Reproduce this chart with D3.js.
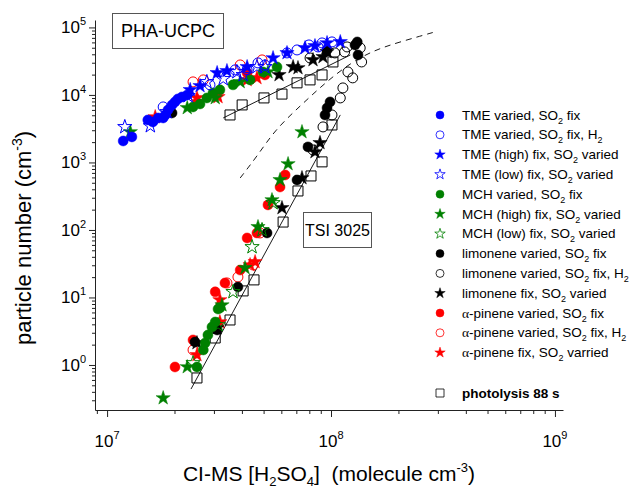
<!DOCTYPE html>
<html>
<head>
<meta charset="utf-8">
<script src="https://cdn.jsdelivr.net/npm/d3@7"></script>
<style>
  body { margin: 0; background: #fff; }
  text { font-family: Arial, "Liberation Sans", sans-serif; fill: #000; }
</style>
</head>
<body>
<script>
// data: [H2SO4] (molecule cm-3), particle number (cm-3)
var tmeVaried = [[1.18e7,2080],[1.29e7,2390],[1.52e7,4260],[1.60e7,3980],[1.69e7,4560],[1.78e7,4560],[1.82e7,5050],
  [1.87e7,5990],[1.95e7,7110],[2.01e7,7880],[2.07e7,8730],[2.16e7,9340],[2.28e7,10000]];
var tmeH2 = [[1.78e7,6640],[2.88e7,14100],[3.73e7,23500],[4.22e7,23500],[4.72e7,29800],[5.07e7,27800],
  [6.36e7,41900],[7.05e7,46400],[7.97e7,55000],[8.75e7,51400],[9.12e7,58900],[1.01e8,61000]];
var tmeHigh = [[2.35e7,11900],[2.60e7,13600],[3.10e7,21200],[3.43e7,22700],[4.22e7,26000],[5.51e7,35300],
  [6.36e7,41900],[7.66e7,49700],[8.48e7,53200],[9.60e7,58900],[1.10e8,61000]];
var tmeLow = [[1.20e7,3360],[1.56e7,3470],[1.85e7,5600],[2.30e7,9670],[2.79e7,15600],[3.30e7,17300],
  [3.80e7,21900],[4.05e7,19800],[4.67e7,26000],[5.07e7,26000]];
var mchVaried = [[2.42e7,6640],[2.60e7,7360],[2.79e7,9030],[2.97e7,10700],[3.19e7,11900],[3.65e7,14100],
  [4.35e7,16700],[4.97e7,21900],[5.74e7,26000],
  [2.52e7,0.934],[2.69e7,1.67],[2.74e7,2.12],[2.82e7,2.78],[2.94e7,3.65],[3.04e7,4.33],[3.13e7,6.75],[3.19e7,6.99]];
var mchHigh = [[1.27e7,2830],[2.28e7,6420],[3.04e7,9030],[3.93e7,15600],[5.23e7,21900],
  [7.42e7,2830],[6.43e7,950],[5.92e7,551],[5.45e7,278],[4.72e7,111],[4.13e7,27.4],[3.26e7,7.7],[2.28e7,0.934],[1.78e7,0.324]];
var mchLow = [[5.51e7,251],[4.92e7,100],[4.44e7,56],[3.65e7,12.1],[3.13e7,3.91],[2.42e7,1.07]];
var limVaried = [[1.31e8,61000],[1.32e8,39100],[9.60e7,46400],[1.28e8,55000],[9.40e7,5050],[9.60e7,6420],[9.90e7,7880],
  [7.89e7,1700],[7.05e7,551],[5.18e7,90.3],[3.84e7,14.3],[3.10e7,3.30],[2.47e7,2.19],[1.95e7,5410]];
var limH2 = [[1.18e8,51400],[1.35e8,49700],[1.37e8,30800],[1.19e8,21900],[1.25e8,17900],[1.13e8,12700],[1.10e8,9030],
  [1.01e8,5050],[9.21e7,3360],[8.31e7,1530],[8.06e7,35300],[1.04e8,41900],[1.15e8,43400]];
var limFix = [[5.86e7,19800],[6.77e7,26000],[7.12e7,25100],[8.31e7,33000],[9.21e7,36600],[9.60e7,43400],
  [8.93e7,1950],[8.48e7,1430],[7.42e7,589],[6.04e7,212],[3.10e7,3.53],[2.52e7,2.12]];
var apVaried = [[4.22e7,21200],[5.07e7,19800],[6.24e7,653],[5.92e7,433],[5.23e7,235],[4.22e7,76.1],[4.67e7,90.3],
  [3.04e7,12.1],[3.36e7,16.4],[3.93e7,25.5],[2.42e7,2.35],[2.01e7,0.934]];
var apH2 = [[2.42e7,15600],[2.69e7,16700],[3.93e7,27800],[4.92e7,33000],[2.42e7,1.67],[3.84e7,20.1],[3.43e7,16.4],
  [4.49e7,30.3],[4.82e7,90.3]];
var apFix = [[1.64e7,4720],[2.52e7,9030],[2.55e7,7880],[3.10e7,10000],[3.13e7,9340],[4.22e7,16700],[4.67e7,17900],
  [3.19e7,9.18],[3.19e7,4.33],[2.52e7,1.41],[4.35e7,30.3],[4.58e7,33.6]];
var photoUpper = [[3.54e7,5050],[4.01e7,7110],[5.02e7,9030],[6.04e7,10300],[7.05e7,15100],[8.06e7,16700],
  [9.12e7,19800],[1.02e8,30800]];
var photoLower = [[2.52e7,0.642],[3.04e7,2.51],[3.54e7,4.64],[4.05e7,12.5],[4.53e7,18.2],[6.11e7,131],[7.12e7,378],
  [8.14e7,631],[9.12e7,1020],[1.01e8,3590]];

// fit lines and the dashed curve
var fitUpper = [[3.30e7,4560],[1.22e8,39100]];
var fitLower = [[2.37e7,0.44],[1.10e8,5060]];
var dashedCurve = [[3.93e7,589],[4.72e7,1291],[5.62e7,3030],[7.28e7,6870],[9.4e7,15060],[1.22e8,29800],
  [1.57e8,46400],[2.03e8,61000],[2.91e8,85800]];

var xTicks = [1e7, 1e8, 1e9];
var yTicks = [1e0, 1e1, 1e2, 1e3, 1e4, 1e5];

// legend text, {..} is subscript, alpha gets the symbol font
var legendLabels = [
  "TME varied, SO{2} fix",
  "TME varied, SO{2} fix, H{2}",
  "TME (high) fix, SO{2} varied",
  "TME (low) fix, SO{2} varied",
  "MCH varied, SO{2} fix",
  "MCH (high) fix, SO{2} varied",
  "MCH (low) fix, SO{2} varied",
  "limonene varied, SO{2} fix",
  "limonene varied, SO{2} fix, H{2}",
  "limonene fix, SO{2} varied",
  "α-pinene varied, SO{2} fix",
  "α-pinene varied, SO{2} fix, H{2}",
  "α-pinene fix, SO{2} varried"
];

var blue = "#0000ff", green = "#008000", black = "#000000", red = "#ff0000";

var series = [
  {data: tmeVaried, shape: "circle", color: blue, filled: true},
  {data: tmeH2, shape: "circle", color: blue, filled: false},
  {data: tmeHigh, shape: "star", color: blue, filled: true},
  {data: tmeLow, shape: "star", color: blue, filled: false},
  {data: mchVaried, shape: "circle", color: green, filled: true},
  {data: mchHigh, shape: "star", color: green, filled: true},
  {data: mchLow, shape: "star", color: green, filled: false},
  {data: limVaried, shape: "circle", color: black, filled: true},
  {data: limH2, shape: "circle", color: black, filled: false},
  {data: limFix, shape: "star", color: black, filled: true},
  {data: apVaried, shape: "circle", color: red, filled: true},
  {data: apH2, shape: "circle", color: red, filled: false},
  {data: apFix, shape: "star", color: red, filled: true}
];

var width = 630, height = 490;

var svg = d3.select("body")
  .append("svg")
    .attr("width", width)
    .attr("height", height);

var x = d3.scaleLog()
  .domain([Math.pow(10, 6.946), Math.pow(10, 9.036)])
  .range([95, 563]);
var y = d3.scaleLog()
  .domain([Math.pow(10, -0.667), Math.pow(10, 5.11)])
  .range([410, 20]);

// minor ticks 2..9 inside the domain
function minors(scale, lo, hi) {
  var out = [];
  var d = scale.domain();
  for (var e = lo; e <= hi; e++) {
    for (var m = 2; m <= 9; m++) {
      var v = m * Math.pow(10, e);
      if (v >= d[0] && v <= d[1]) out.push(v);
    }
  }
  return out;
}

// X axis
svg.append("g")
  .attr("transform", "translate(0,410)")
  .call(d3.axisBottom(x).tickValues(xTicks).tickSize(7).tickSizeOuter(0).tickFormat(""));
svg.append("g")
  .attr("transform", "translate(0,410)")
  .call(d3.axisBottom(x).tickValues(minors(x, 6, 8)).tickSize(4).tickSizeOuter(0).tickFormat(""))
  .select(".domain").remove();

// Y axis
svg.append("g")
  .attr("transform", "translate(95,0)")
  .call(d3.axisLeft(y).tickValues(yTicks).tickSize(6).tickSizeOuter(0).tickFormat(""));
svg.append("g")
  .attr("transform", "translate(95,0)")
  .call(d3.axisLeft(y).tickValues(minors(y, -1, 4)).tickSize(3).tickSizeOuter(0).tickFormat(""))
  .select(".domain").remove();

svg.selectAll(".domain, .tick line").attr("stroke", "#222");

// tick labels 10^n
xTicks.forEach(function(v) {
  var t = svg.append("text")
    .attr("x", x(v))
    .attr("y", 447)
    .attr("text-anchor", "middle")
    .style("font-size", "17px");
  t.append("tspan").text("10");
  t.append("tspan").attr("dy", -8).style("font-size", "11px").text(Math.round(Math.log10(v)));
});
yTicks.forEach(function(v) {
  var t = svg.append("text")
    .attr("x", 86)
    .attr("y", y(v) + 6)
    .attr("text-anchor", "end")
    .style("font-size", "17px");
  t.append("tspan").text("10");
  t.append("tspan").attr("dy", -8).style("font-size", "11px").text(Math.round(Math.log10(v)));
});

// axis titles
var xt = svg.append("text")
  .attr("x", 329)
  .attr("y", 481)
  .attr("text-anchor", "middle")
  .style("font-size", "21px");
xt.append("tspan").text("CI-MS [H");
xt.append("tspan").attr("dy", 5).style("font-size", "13px").text("2");
xt.append("tspan").attr("dy", -5).text("SO");
xt.append("tspan").attr("dy", 5).style("font-size", "13px").text("4");
xt.append("tspan").attr("dy", -5).text("]\u00a0 (molecule cm");
xt.append("tspan").attr("dy", -9).style("font-size", "13px").text("-3");
xt.append("tspan").attr("dy", 9).text(")");

var yt = svg.append("text")
  .attr("transform", "translate(31,238) rotate(-90)")
  .attr("text-anchor", "middle")
  .style("font-size", "22px");
yt.append("tspan").text("particle number (cm");
yt.append("tspan").attr("dy", -9).style("font-size", "14px").text("-3");
yt.append("tspan").attr("dy", 9).text(")");

// fit lines
var line = d3.line()
  .x(function(d) { return x(d[0]); })
  .y(function(d) { return y(d[1]); });

svg.append("path").datum(fitUpper).attr("d", line)
  .attr("fill", "none").attr("stroke", "#000").attr("stroke-width", 0.9);
svg.append("path").datum(fitLower).attr("d", line)
  .attr("fill", "none").attr("stroke", "#000").attr("stroke-width", 0.9);
svg.append("path").datum(dashedCurve).attr("d", line.curve(d3.curveBasis))
  .attr("fill", "none").attr("stroke", "#000").attr("stroke-width", 0.9)
  .attr("stroke-dasharray", "6,5");

// markers
function symbolPath(shape, r) {
  if (shape === "star") return d3.symbol().type(d3.symbolStar).size(r * r / 0.8908)();
  if (shape === "square") return d3.symbol().type(d3.symbolSquare).size(r * r * 4)();
  return d3.symbol().type(d3.symbolCircle).size(Math.PI * r * r)();
}

function drawMarks(s, rCircle, rStar) {
  var r = s.shape === "star" ? rStar : (s.shape === "square" ? 5 : rCircle);
  svg.append("g").selectAll("path")
    .data(s.data)
    .enter()
    .append("path")
      .attr("transform", function(d) { return "translate(" + x(d[0]) + "," + y(d[1]) + ")"; })
      .attr("d", symbolPath(s.shape, r))
      .attr("fill", s.filled ? s.color : "#fff")
      .attr("fill-opacity", s.filled ? 1 : 0)
      .attr("stroke", s.color)
      .attr("stroke-width", s.filled ? 0.5 : 1);
}

drawMarks({data: photoUpper, shape: "square", color: "#000", filled: false});
drawMarks({data: photoLower, shape: "square", color: "#000", filled: false});
series.slice().reverse().forEach(function(s) { drawMarks(s, 5, 7.5); });

// label boxes
function boxLabel(bx, by, bw, bh, label, fs) {
  svg.append("rect")
    .attr("x", bx).attr("y", by).attr("width", bw).attr("height", bh)
    .attr("fill", "#fff").attr("stroke", "#555").attr("stroke-width", 1);
  svg.append("text")
    .attr("x", bx + bw / 2).attr("y", by + bh / 2 + fs * 0.36)
    .attr("text-anchor", "middle")
    .style("font-size", fs + "px")
    .text(label);
}
boxLabel(112.5, 13.5, 111, 35, "PHA-UCPC", 18);
boxLabel(303.5, 212.5, 68, 35, "TSI 3025", 16);

// legend
var legend = svg.append("g");
series.forEach(function(s, i) {
  var cy = 115 + i * 19.8;
  var r = s.shape === "star" ? 5.5 : 4;
  legend.append("path")
    .attr("transform", "translate(440," + cy + ")")
    .attr("d", symbolPath(s.shape, r))
    .attr("fill", s.filled ? s.color : "#fff")
    .attr("stroke", s.color)
    .attr("stroke-width", s.filled ? 0.5 : 0.8);
  var t = legend.append("text")
    .attr("x", 462)
    .attr("y", cy + 4.5)
    .style("font-size", "13.5px");
  var parts = legendLabels[i].split(/(\{[^}]*\}|α)/).filter(function(p) { return p !== ""; });
  var shifted = false;
  parts.forEach(function(p) {
    var ts = t.append("tspan");
    if (p.charAt(0) === "{") {
      ts.attr("dy", 4).style("font-size", "9px").text(p.slice(1, -1));
      shifted = true;
    } else {
      if (shifted) { ts.attr("dy", -4); shifted = false; }
      if (p === "α") ts.style("font-family", "'Liberation Serif', 'DejaVu Serif', serif");
      ts.text(p);
    }
  });
});

legend.append("path")
  .attr("transform", "translate(440,393)")
  .attr("d", symbolPath("square", 4))
  .attr("fill", "#fff")
  .attr("stroke", "#000")
  .attr("stroke-width", 0.8);
legend.append("text")
  .attr("x", 462)
  .attr("y", 397.5)
  .style("font-size", "13.5px")
  .style("font-weight", "bold")
  .text("photolysis 88 s");
</script>
</body>
</html>
